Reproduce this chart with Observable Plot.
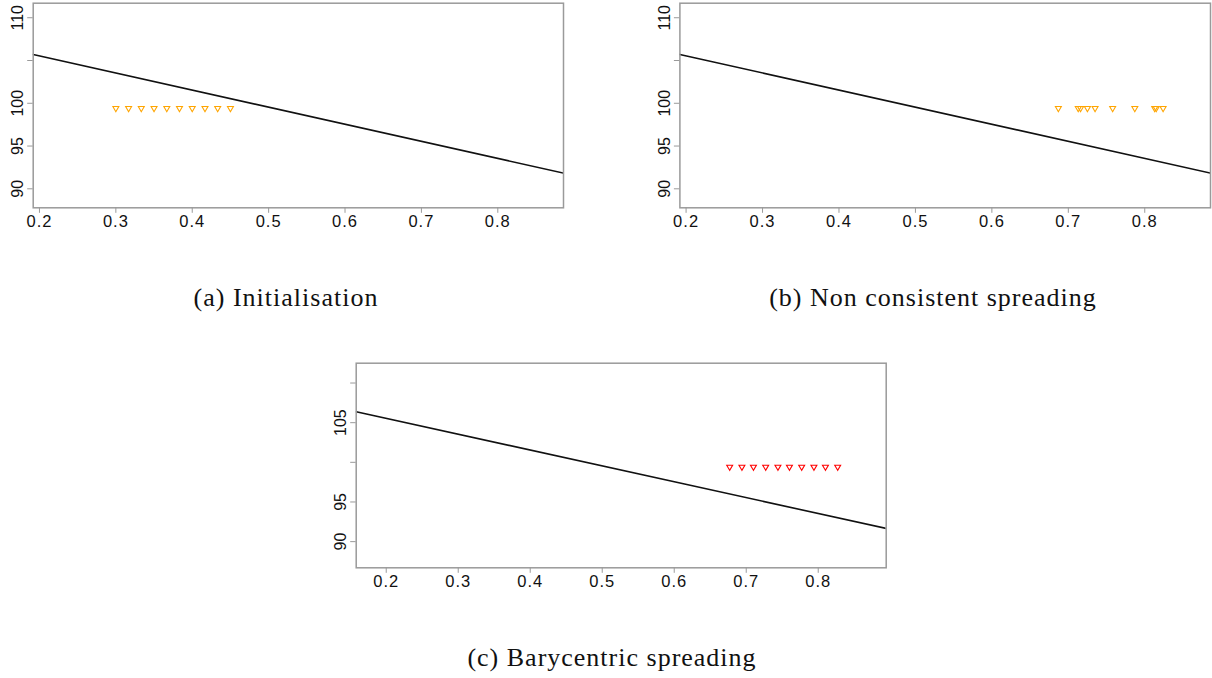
<!DOCTYPE html>
<html>
<head>
<meta charset="utf-8">
<script src="https://cdn.jsdelivr.net/npm/d3@7"></script>
<script src="https://cdn.jsdelivr.net/npm/@observablehq/plot@0.6"></script>
<style>
  html, body { margin: 0; padding: 0; background: #fff; overflow: hidden; }
  #page { position: relative; width: 1212px; height: 678px; }
  .panel { position: absolute; }
  .panel g[aria-label="x-axis tick label"] text { letter-spacing: 1px; }
  .caption { position: absolute; width: 600px; text-align: center; font-family: "Liberation Serif", "Times New Roman", serif; font-size: 26px; line-height: 26px; letter-spacing: 1px; color: #111; white-space: nowrap; }
</style>
</head>
<body>
<div id="page"></div>
<script>
// ---- data ----
const xTicks = [0.2, 0.3, 0.4, 0.5, 0.6, 0.7, 0.8];
const xTickLabels = ["0.2", "0.3", "0.4", "0.5", "0.6", "0.7", "0.8"];
const yTicks = [90, 95, 100, 105, 110];
const yTickLabelsAB = ["90", "95", "100", "", "110"];
const yTickLabelsC = ["90", "95", "", "105", ""];

const captions = ["(a) Initialisation", "(b) Non consistent spreading", "(c) Barycentric spreading"];

// decision line (endpoints at the frame edges)
const lineXab = [0.1918, 0.886];
const lineYab = [105.71, 91.83];
const lineXc = [0.1583, 0.8944];
const lineYc = [106.38, 91.66];

// triangle points
const pointsA = [0.300, 0.3167, 0.3333, 0.350, 0.3667, 0.3833, 0.400, 0.4167, 0.4333, 0.450];
const pointsB = [0.687, 0.713, 0.716, 0.725, 0.735, 0.758, 0.787, 0.813, 0.815, 0.824];
const pointsC = [0.677, 0.694, 0.710, 0.727, 0.744, 0.760, 0.777, 0.794, 0.810, 0.827];
const pointY = 99.42;

// ---- drawing ----
const page = document.getElementById("page");
const gray = "#9a9a9a";
const font = "'Liberation Sans', Arial, Helvetica, sans-serif";

function panel({left, top, width, height, margins, xDomain, yDomain, lineX, lineY, pts, color, yLabels}) {
  const lineData = lineX.map((x, i) => ({x, y: lineY[i]}));
  const ptData = pts.map(x => ({x, y: pointY}));
  const chart = Plot.plot({
    width, height,
    marginLeft: margins[0], marginRight: margins[1], marginTop: margins[2], marginBottom: margins[3],
    x: {domain: xDomain, axis: null},
    y: {domain: yDomain, axis: null},
    style: {fontFamily: font, fontSize: "16.5px", background: "transparent", color: "#111", overflow: "visible"},
    marks: [
      Plot.line(lineData, {x: "x", y: "y", stroke: "#111", strokeWidth: 1.6, clip: true}),
      Plot.dot(ptData, {x: "x", y: "y", symbol: "triangle", rotate: 180, r: 2.2, stroke: color, fill: "none", strokeWidth: 1.1}),
      Plot.frame({stroke: gray, strokeWidth: 1.5}),
      Plot.axisX({ticks: xTicks, tickFormat: d => xTickLabels[xTicks.indexOf(d)], tickSize: 5.5, tickPadding: 2, stroke: gray, fill: "#111", fontSize: 16.5, fontFamily: font, label: null}),
      Plot.axisY({ticks: yTicks, tickFormat: d => yLabels[yTicks.indexOf(d)], tickSize: 5.5, tickRotate: -90, tickPadding: 4.5, stroke: gray, fill: "#111", fontSize: 16, fontFamily: font, label: null})
    ]
  });
  chart.classList.add("panel");
  chart.style.left = left + "px";
  chart.style.top = top + "px";
  page.appendChild(chart);
}

panel({left: 0, top: 0, width: 600, height: 250, margins: [32.7, 37, 2.7, 42.7],
  xDomain: [0.1918, 0.886], yDomain: [87.78, 111.7], lineX: lineXab, lineY: lineYab, pts: pointsA, color: "orange", yLabels: yTickLabelsAB});
panel({left: 640, top: 0, width: 572, height: 250, margins: [39.4, 2, 2.7, 42.7],
  xDomain: [0.1919, 0.886], yDomain: [87.78, 111.7], lineX: lineXab, lineY: lineYab, pts: pointsB, color: "orange", yLabels: yTickLabelsAB});
panel({left: 300, top: 350, width: 600, height: 250, margins: [55.7, 14.3, 12.7, 32.7],
  xDomain: [0.1583, 0.8944], yDomain: [86.7, 112.5], lineX: lineXc, lineY: lineYc, pts: pointsC, color: "red", yLabels: yTickLabelsC});

const capPos = [[286, 285], [933, 285], [612, 645]];
captions.forEach((t, i) => {
  const d = document.createElement("div");
  d.className = "caption";
  d.textContent = t;
  d.style.left = (capPos[i][0] - 300) + "px";
  d.style.top = capPos[i][1] + "px";
  page.appendChild(d);
});
</script>
</body>
</html>
